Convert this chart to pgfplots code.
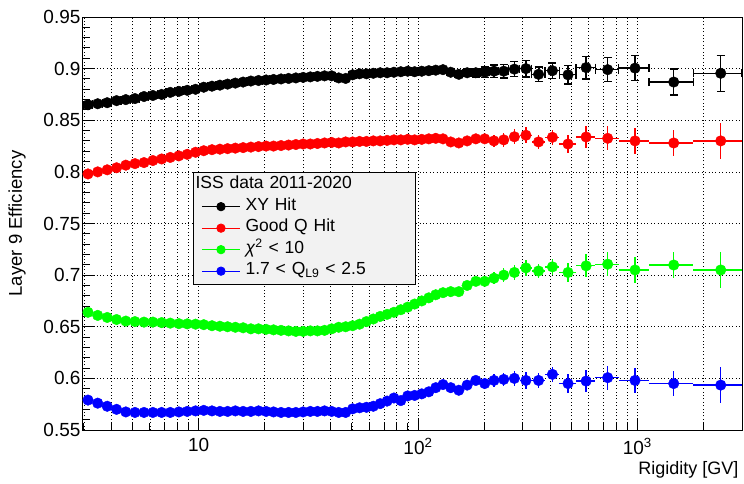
\documentclass[border=0pt]{standalone}
\usepackage{fontspec}
\setmainfont{Liberation Sans}
\usepackage{pgfplots}
\usepackage{pgfplotstable}
\pgfplotsset{compat=1.18}
\definecolor{legbg}{RGB}{242,242,242}
\definecolor{rootgreen}{RGB}{0,255,0}
\definecolor{rootblue}{RGB}{0,0,255}
\definecolor{rootred}{RGB}{255,0,0}

% rigidity bin centre, half bin width, efficiency error,
% XY hit, good Q hit, chi2<10, 1.7<Q_L9<2.5
\pgfplotstableread{
x ex ey k r g b
3.13 0.16 0.001 0.865 0.798 0.664 0.579
3.465 0.175 0.001 0.866 0.800 0.661 0.576
3.83 0.19 0.001 0.867 0.802 0.659 0.573
4.225 0.205 0.001 0.869 0.804 0.657 0.570
4.655 0.225 0.001 0.870 0.8065 0.6555 0.5675
5.125 0.245 0.001 0.871 0.808 0.655 0.567
5.635 0.265 0.001 0.873 0.809 0.6545 0.567
6.185 0.285 0.001 0.874 0.811 0.6545 0.567
6.78 0.31 0.001 0.875 0.8125 0.654 0.567
7.425 0.335 0.001 0.877 0.814 0.6535 0.567
8.12 0.36 0.001 0.878 0.8155 0.653 0.5675
8.87 0.39 0.001 0.879 0.817 0.6528 0.568
9.68 0.42 0.001 0.880 0.819 0.6525 0.5685
10.55 0.45 0.001 0.882 0.8205 0.652 0.569
11.5 0.5 0.001 0.883 0.8215 0.651 0.5685
12.5 0.5 0.001 0.884 0.822 0.6505 0.568
13.55 0.55 0.001 0.885 0.8225 0.650 0.568
14.7 0.6 0.001 0.886 0.823 0.6495 0.5685
15.95 0.65 0.001 0.887 0.8235 0.649 0.568
17.3 0.7 0.001 0.888 0.824 0.648 0.568
18.75 0.75 0.001 0.8885 0.8245 0.648 0.5685
20.3 0.8 0.001 0.889 0.825 0.6475 0.568
21.95 0.85 0.001 0.8895 0.825 0.647 0.5675
23.75 0.95 0.001 0.890 0.8255 0.6465 0.567
25.7 1.0 0.001 0.8905 0.826 0.646 0.567
27.75 1.05 0.001 0.891 0.8265 0.6455 0.567
29.95 1.15 0.001 0.8915 0.827 0.6455 0.5675
32.3 1.2 0.001 0.892 0.827 0.646 0.568
34.8 1.3 0.001 0.8925 0.8275 0.646 0.568
37.5 1.4 0.001 0.893 0.828 0.6465 0.5685
40.4 1.5 0.001 0.893 0.8285 0.648 0.568
43.5 1.6 0.001 0.891 0.828 0.6495 0.567
46.8 1.7 0.001 0.8905 0.829 0.650 0.567
50.35 1.85 0.001 0.894 0.829 0.651 0.5705
54.15 1.95 0.001 0.895 0.8295 0.6525 0.5715
58.2 2.1 0.001 0.895 0.8295 0.655 0.572
62.55 2.25 0.001 0.8955 0.830 0.6575 0.573
67.25 2.45 0.001 0.896 0.830 0.660 0.5755
72.3 2.6 0.001 0.896 0.8305 0.662 0.578
77.7 2.8 0.0015 0.8965 0.831 0.664 0.581
83.5 3.0 0.002 0.897 0.831 0.6665 0.5785
89.75 3.25 0.002 0.8975 0.8315 0.669 0.583
96.5 3.5 0.002 0.897 0.831 0.672 0.5835
104 4 0.002 0.8975 0.8315 0.675 0.585
112 4 0.002 0.898 0.832 0.678 0.587
120.5 4.5 0.0025 0.8985 0.8325 0.681 0.591
130 5 0.0025 0.899 0.832 0.683 0.594
141 6 0.003 0.8965 0.829 0.684 0.591
153.5 6.5 0.003 0.8945 0.828 0.684 0.5885
167.5 7.5 0.0035 0.896 0.830 0.690 0.5935
183.5 8.5 0.004 0.896 0.832 0.694 0.598
201.5 9.5 0.005 0.8965 0.832 0.694 0.595
222 11 0.006 0.8975 0.830 0.697 0.598
246 13 0.0065 0.8975 0.831 0.700 0.599
275 16 0.0073 0.8995 0.834 0.7026 0.600
310.5 19.5 0.008 0.900 0.8355 0.707 0.598
354.5 24.5 0.007 0.8945 0.829 0.704 0.598
410 31 0.0075 0.898 0.8335 0.708 0.6039
483 42 0.009 0.894 0.827 0.7026 0.595
584 59 0.011 0.901 0.8338 0.709 0.5974
732.5 89.5 0.0116 0.899 0.8325 0.7106 0.6007
976 154 0.0123 0.9005 0.830 0.705 0.598
1465 335 0.0125 0.887 0.828 0.7098 0.595
2400 600 0.0175 0.8955 0.830 0.705 0.5935
}\effdata

\begin{document}
\begin{tikzpicture}
\path[use as bounding box] (-83pt,-53pt) rectangle (661pt,430pt);
\begin{axis}[
  at={(0pt,0pt)}, anchor=south west,
  scale only axis, width=659pt, height=413pt,
  xmode=log, xmin=2.97, xmax=3000, ymin=0.55, ymax=0.95,
  xtick={10,100,1000},
  xticklabels={10,10\textsuperscript{2},10\textsuperscript{3}},
  minor xtick={3,4,5,6,7,8,9,20,30,40,50,60,70,80,90,200,300,400,500,600,700,800,900,2000,3000},
  ytick={0.55,0.6,0.65,0.7,0.75,0.8,0.85,0.9,0.95},
  yticklabels={0.55,0.6,0.65,0.7,0.75,0.8,0.85,0.9,0.95},
  minor y tick num=4,
  tick align=inside, xtick pos=left, ytick pos=left,
  major tick length=12pt, minor tick length=7pt,
  tick style={black, line width=1pt},
  axis line style={line width=1pt},
  xmajorgrids, xminorgrids, ymajorgrids,
  grid style={black, line width=0.7pt, dash pattern=on 1pt off 2.4pt},
  minor grid style={black, line width=0.7pt, dash pattern=on 1pt off 2.4pt},
  ticklabel style={font=\fontsize{19}{21}\selectfont},
  yticklabel style={xshift=1pt},
  xticklabel style={yshift=-5pt},
  xlabel={Rigidity [GV]}, ylabel={Layer 9 Efficiency},
  xlabel style={at={(axis description cs:1,-0.107)}, anchor=base east, font=\fontsize{18}{20}\selectfont},
  ylabel style={at={(axis description cs:-0.1,0.5)}, anchor=center, font=\fontsize{18.5}{20}\selectfont},
  legend style={at={(rel axis cs:0.1669,0.6247)}, anchor=north west,
    fill=legbg, draw=black, line width=0.8pt,
    font=\fontsize{17.5}{19}\selectfont,
    inner xsep=8pt, inner ysep=2pt, row sep=0pt,
    nodes={text width=157pt, align=left, inner xsep=5pt, inner ysep=1pt,
      text height=13.5pt, text depth=6pt}},
  legend image code/.code={
    \draw[#1, mark=none, line width=1.2pt] (0pt,0pt) -- (38pt,0pt);
    \draw[#1] plot coordinates {(19pt,0pt)};
  },
]
\addlegendimage{empty legend}
\addlegendentry{\hspace*{-50pt}ISS data 2011-2020}
\addlegendimage{black, mark=*, mark size=4.2pt}
\addlegendentry{XY Hit}
\addlegendimage{rootred, mark=*, mark size=4.2pt}
\addlegendentry{Good Q Hit}
\addlegendimage{rootgreen, mark=*, mark size=4.2pt}
\addlegendentry{\textit{χ}\textsuperscript{2} < 10}
\addlegendimage{rootblue, mark=*, mark size=4.2pt}
\addlegendentry{1.7 < Q\textsubscript{L9} < 2.5}

\addplot[black, only marks, mark=*, mark size=5.3pt, forget plot,
  error bars/.cd, x dir=both, x explicit, y dir=both, y explicit,
  error mark=-, error bar style={line width=1.3pt},
  error mark options={rotate=90, line width=1.3pt, mark size=4pt}]
  table[x=x, y=k, x error=ex, y error=ey] {\effdata};
\addplot[rootred, only marks, mark=*, mark size=5.3pt, forget plot,
  error bars/.cd, x dir=both, x explicit, y dir=both, y explicit,
  error mark=none, error bar style={line width=1.3pt}]
  table[x=x, y=r, x error=ex, y error=ey] {\effdata};
\addplot[rootgreen, only marks, mark=*, mark size=5.3pt, forget plot,
  error bars/.cd, x dir=both, x explicit, y dir=both, y explicit,
  error mark=none, error bar style={line width=1.3pt}]
  table[x=x, y=g, x error=ex, y error=ey] {\effdata};
\addplot[rootblue, only marks, mark=*, mark size=5.3pt, forget plot,
  error bars/.cd, x dir=both, x explicit, y dir=both, y explicit,
  error mark=none, error bar style={line width=1.3pt}]
  table[x=x, y=b, x error=ex, y error=ey] {\effdata};
\end{axis}
\end{tikzpicture}
\end{document}
